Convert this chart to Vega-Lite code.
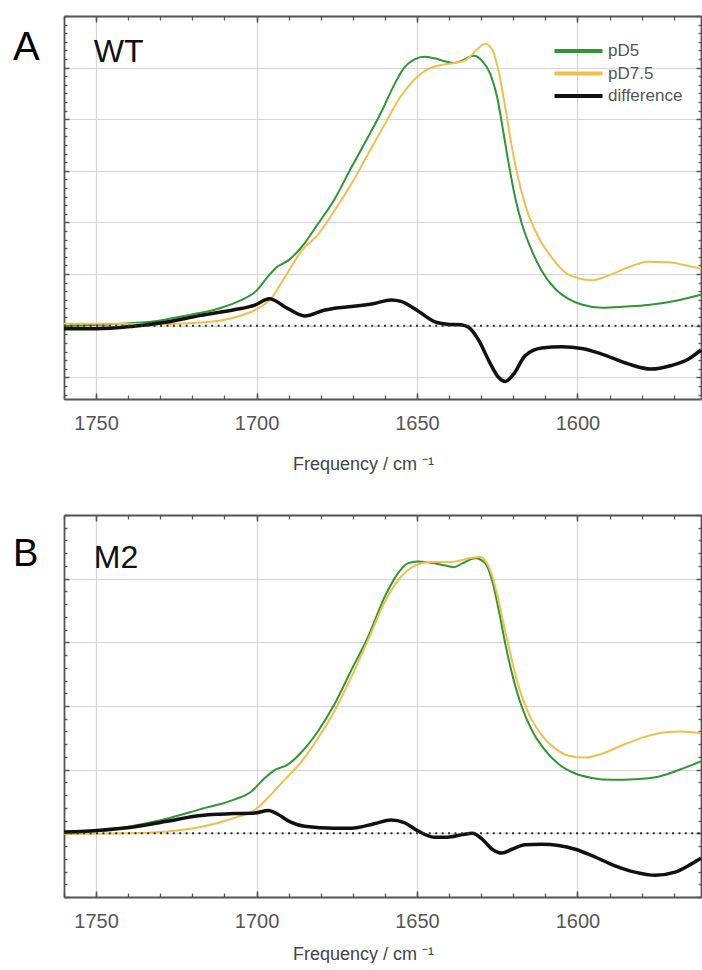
{
  "$schema": "https://vega.github.io/schema/vega-lite/v6.json",
  "padding": {"left": 12, "top": 15, "right": 0, "bottom": 0},
  "autosize": {"type": "pad"},
  "config": {"font": "Liberation Sans", "view": {"stroke": null}},
  "datasets": {
    "A": [
      {"series": "pD5", "freq": 1760, "value": 0.0},
      {"series": "pD5", "freq": 1745, "value": 0.03},
      {"series": "pD5", "freq": 1731, "value": 0.09},
      {"series": "pD5", "freq": 1721.6, "value": 0.2},
      {"series": "pD5", "freq": 1712, "value": 0.33},
      {"series": "pD5", "freq": 1705, "value": 0.49},
      {"series": "pD5", "freq": 1700, "value": 0.68},
      {"series": "pD5", "freq": 1696.5, "value": 0.95},
      {"series": "pD5", "freq": 1694, "value": 1.12},
      {"series": "pD5", "freq": 1690, "value": 1.27},
      {"series": "pD5", "freq": 1686, "value": 1.52},
      {"series": "pD5", "freq": 1681, "value": 1.96},
      {"series": "pD5", "freq": 1675.7, "value": 2.45},
      {"series": "pD5", "freq": 1670.5, "value": 3.06},
      {"series": "pD5", "freq": 1665.3, "value": 3.65},
      {"series": "pD5", "freq": 1661.2, "value": 4.13},
      {"series": "pD5", "freq": 1657, "value": 4.68},
      {"series": "pD5", "freq": 1654, "value": 5.0},
      {"series": "pD5", "freq": 1650.8, "value": 5.16},
      {"series": "pD5", "freq": 1647.7, "value": 5.21},
      {"series": "pD5", "freq": 1644.6, "value": 5.18},
      {"series": "pD5", "freq": 1641, "value": 5.12},
      {"series": "pD5", "freq": 1638.5, "value": 5.09},
      {"series": "pD5", "freq": 1635.9, "value": 5.14},
      {"series": "pD5", "freq": 1632.3, "value": 5.23},
      {"series": "pD5", "freq": 1629.7, "value": 5.13},
      {"series": "pD5", "freq": 1627.1, "value": 4.87},
      {"series": "pD5", "freq": 1625, "value": 4.42},
      {"series": "pD5", "freq": 1623.5, "value": 3.9},
      {"series": "pD5", "freq": 1621.4, "value": 3.13},
      {"series": "pD5", "freq": 1619.4, "value": 2.48},
      {"series": "pD5", "freq": 1617.3, "value": 1.97},
      {"series": "pD5", "freq": 1614.2, "value": 1.45},
      {"series": "pD5", "freq": 1611.1, "value": 1.06},
      {"series": "pD5", "freq": 1606.9, "value": 0.71},
      {"series": "pD5", "freq": 1602.8, "value": 0.52},
      {"series": "pD5", "freq": 1598.7, "value": 0.41},
      {"series": "pD5", "freq": 1592.4, "value": 0.35},
      {"series": "pD5", "freq": 1585.2, "value": 0.37},
      {"series": "pD5", "freq": 1578, "value": 0.4},
      {"series": "pD5", "freq": 1569.7, "value": 0.48},
      {"series": "pD5", "freq": 1561.5, "value": 0.6},
      {"series": "pD7.5", "freq": 1760, "value": 0.04},
      {"series": "pD7.5", "freq": 1745, "value": 0.04},
      {"series": "pD7.5", "freq": 1731, "value": 0.03},
      {"series": "pD7.5", "freq": 1717.4, "value": 0.06},
      {"series": "pD7.5", "freq": 1707, "value": 0.16},
      {"series": "pD7.5", "freq": 1700, "value": 0.32},
      {"series": "pD7.5", "freq": 1695.4, "value": 0.53},
      {"series": "pD7.5", "freq": 1691.2, "value": 0.94},
      {"series": "pD7.5", "freq": 1686, "value": 1.45},
      {"series": "pD7.5", "freq": 1680.8, "value": 1.77},
      {"series": "pD7.5", "freq": 1675.7, "value": 2.23},
      {"series": "pD7.5", "freq": 1670.5, "value": 2.74},
      {"series": "pD7.5", "freq": 1665.3, "value": 3.32},
      {"series": "pD7.5", "freq": 1660.1, "value": 3.9},
      {"series": "pD7.5", "freq": 1655, "value": 4.45},
      {"series": "pD7.5", "freq": 1650.8, "value": 4.77},
      {"series": "pD7.5", "freq": 1646.6, "value": 4.97},
      {"series": "pD7.5", "freq": 1642.5, "value": 5.05},
      {"series": "pD7.5", "freq": 1638.4, "value": 5.09},
      {"series": "pD7.5", "freq": 1635, "value": 5.14},
      {"series": "pD7.5", "freq": 1633.9, "value": 5.19},
      {"series": "pD7.5", "freq": 1631.3, "value": 5.35},
      {"series": "pD7.5", "freq": 1628.7, "value": 5.46},
      {"series": "pD7.5", "freq": 1626.6, "value": 5.35},
      {"series": "pD7.5", "freq": 1624.6, "value": 4.94},
      {"series": "pD7.5", "freq": 1622.5, "value": 4.23},
      {"series": "pD7.5", "freq": 1620.4, "value": 3.45},
      {"series": "pD7.5", "freq": 1618.3, "value": 2.81},
      {"series": "pD7.5", "freq": 1615.7, "value": 2.23},
      {"series": "pD7.5", "freq": 1612.1, "value": 1.71},
      {"series": "pD7.5", "freq": 1608, "value": 1.32},
      {"series": "pD7.5", "freq": 1603.8, "value": 1.03},
      {"series": "pD7.5", "freq": 1599.7, "value": 0.92},
      {"series": "pD7.5", "freq": 1595.5, "value": 0.88},
      {"series": "pD7.5", "freq": 1590.4, "value": 0.97},
      {"series": "pD7.5", "freq": 1584.2, "value": 1.13},
      {"series": "pD7.5", "freq": 1578, "value": 1.24},
      {"series": "pD7.5", "freq": 1571.7, "value": 1.23},
      {"series": "pD7.5", "freq": 1565.5, "value": 1.16},
      {"series": "pD7.5", "freq": 1561.5, "value": 1.1},
      {"series": "difference", "freq": 1760, "value": -0.06},
      {"series": "difference", "freq": 1750, "value": -0.06},
      {"series": "difference", "freq": 1738.3, "value": -0.01},
      {"series": "difference", "freq": 1727.9, "value": 0.07},
      {"series": "difference", "freq": 1717.4, "value": 0.2},
      {"series": "difference", "freq": 1707, "value": 0.31},
      {"series": "difference", "freq": 1700.5, "value": 0.4},
      {"series": "difference", "freq": 1696, "value": 0.52},
      {"series": "difference", "freq": 1690.5, "value": 0.34},
      {"series": "difference", "freq": 1685, "value": 0.19},
      {"series": "difference", "freq": 1679, "value": 0.3},
      {"series": "difference", "freq": 1675.7, "value": 0.34},
      {"series": "difference", "freq": 1670.5, "value": 0.37},
      {"series": "difference", "freq": 1663.3, "value": 0.43},
      {"series": "difference", "freq": 1658.1, "value": 0.5},
      {"series": "difference", "freq": 1655, "value": 0.47},
      {"series": "difference", "freq": 1649.8, "value": 0.29},
      {"series": "difference", "freq": 1644.6, "value": 0.08},
      {"series": "difference", "freq": 1640.5, "value": 0.03},
      {"series": "difference", "freq": 1636.3, "value": 0.02},
      {"series": "difference", "freq": 1633.9, "value": -0.03},
      {"series": "difference", "freq": 1630.7, "value": -0.29},
      {"series": "difference", "freq": 1627.6, "value": -0.68},
      {"series": "difference", "freq": 1624.6, "value": -1.0},
      {"series": "difference", "freq": 1622.5, "value": -1.08},
      {"series": "difference", "freq": 1619.9, "value": -0.94},
      {"series": "difference", "freq": 1616.3, "value": -0.58},
      {"series": "difference", "freq": 1611.1, "value": -0.43},
      {"series": "difference", "freq": 1604.9, "value": -0.41},
      {"series": "difference", "freq": 1598.7, "value": -0.44},
      {"series": "difference", "freq": 1592.4, "value": -0.55},
      {"series": "difference", "freq": 1584.2, "value": -0.74},
      {"series": "difference", "freq": 1577.1, "value": -0.84},
      {"series": "difference", "freq": 1570.7, "value": -0.77},
      {"series": "difference", "freq": 1565.5, "value": -0.65},
      {"series": "difference", "freq": 1561.5, "value": -0.47}
    ],
    "B": [
      {"series": "pD5", "freq": 1760, "value": 0.02},
      {"series": "pD5", "freq": 1748.7, "value": 0.04},
      {"series": "pD5", "freq": 1738.3, "value": 0.12},
      {"series": "pD5", "freq": 1727.9, "value": 0.23},
      {"series": "pD5", "freq": 1717.4, "value": 0.38},
      {"series": "pD5", "freq": 1707, "value": 0.53},
      {"series": "pD5", "freq": 1701.8, "value": 0.65},
      {"series": "pD5", "freq": 1697.6, "value": 0.86},
      {"series": "pD5", "freq": 1694.5, "value": 0.99},
      {"series": "pD5", "freq": 1690.3, "value": 1.08},
      {"series": "pD5", "freq": 1686.1, "value": 1.27},
      {"series": "pD5", "freq": 1680.9, "value": 1.6},
      {"series": "pD5", "freq": 1675.7, "value": 2.03},
      {"series": "pD5", "freq": 1670.5, "value": 2.56},
      {"series": "pD5", "freq": 1665.3, "value": 3.08},
      {"series": "pD5", "freq": 1660.1, "value": 3.71},
      {"series": "pD5", "freq": 1656, "value": 4.08},
      {"series": "pD5", "freq": 1652.9, "value": 4.24},
      {"series": "pD5", "freq": 1649.8, "value": 4.27},
      {"series": "pD5", "freq": 1645.7, "value": 4.25},
      {"series": "pD5", "freq": 1640.5, "value": 4.2},
      {"series": "pD5", "freq": 1638.5, "value": 4.18},
      {"series": "pD5", "freq": 1635.9, "value": 4.24},
      {"series": "pD5", "freq": 1631.8, "value": 4.32},
      {"series": "pD5", "freq": 1628.7, "value": 4.24},
      {"series": "pD5", "freq": 1626.6, "value": 3.97},
      {"series": "pD5", "freq": 1624.5, "value": 3.5},
      {"series": "pD5", "freq": 1622.5, "value": 2.98},
      {"series": "pD5", "freq": 1620.4, "value": 2.51},
      {"series": "pD5", "freq": 1617.3, "value": 1.98},
      {"series": "pD5", "freq": 1614.2, "value": 1.62},
      {"series": "pD5", "freq": 1610, "value": 1.3},
      {"series": "pD5", "freq": 1605.9, "value": 1.09},
      {"series": "pD5", "freq": 1600.7, "value": 0.94},
      {"series": "pD5", "freq": 1595.5, "value": 0.87},
      {"series": "pD5", "freq": 1589.3, "value": 0.84},
      {"series": "pD5", "freq": 1582.1, "value": 0.85},
      {"series": "pD5", "freq": 1574.8, "value": 0.89},
      {"series": "pD5", "freq": 1567.6, "value": 1.01},
      {"series": "pD5", "freq": 1561.5, "value": 1.13},
      {"series": "pD7.5", "freq": 1760, "value": -0.01},
      {"series": "pD7.5", "freq": 1738.3, "value": 0.0},
      {"series": "pD7.5", "freq": 1727.9, "value": 0.03},
      {"series": "pD7.5", "freq": 1717.4, "value": 0.1},
      {"series": "pD7.5", "freq": 1707, "value": 0.24},
      {"series": "pD7.5", "freq": 1700.5, "value": 0.37},
      {"series": "pD7.5", "freq": 1696.6, "value": 0.55},
      {"series": "pD7.5", "freq": 1691.3, "value": 0.84},
      {"series": "pD7.5", "freq": 1686.1, "value": 1.12},
      {"series": "pD7.5", "freq": 1680.9, "value": 1.49},
      {"series": "pD7.5", "freq": 1675.7, "value": 1.92},
      {"series": "pD7.5", "freq": 1670.5, "value": 2.45},
      {"series": "pD7.5", "freq": 1665.3, "value": 3.03},
      {"series": "pD7.5", "freq": 1660.1, "value": 3.63},
      {"series": "pD7.5", "freq": 1655, "value": 4.03},
      {"series": "pD7.5", "freq": 1650.8, "value": 4.2},
      {"series": "pD7.5", "freq": 1645.7, "value": 4.26},
      {"series": "pD7.5", "freq": 1640.5, "value": 4.26},
      {"series": "pD7.5", "freq": 1637, "value": 4.28},
      {"series": "pD7.5", "freq": 1632.8, "value": 4.33},
      {"series": "pD7.5", "freq": 1630.2, "value": 4.34},
      {"series": "pD7.5", "freq": 1627.6, "value": 4.18},
      {"series": "pD7.5", "freq": 1625.6, "value": 3.87},
      {"series": "pD7.5", "freq": 1623.5, "value": 3.4},
      {"series": "pD7.5", "freq": 1621.4, "value": 2.93},
      {"series": "pD7.5", "freq": 1618.3, "value": 2.3},
      {"series": "pD7.5", "freq": 1615.2, "value": 1.88},
      {"series": "pD7.5", "freq": 1611.1, "value": 1.54},
      {"series": "pD7.5", "freq": 1606.9, "value": 1.33},
      {"series": "pD7.5", "freq": 1602.8, "value": 1.22},
      {"series": "pD7.5", "freq": 1597.6, "value": 1.19},
      {"series": "pD7.5", "freq": 1592.4, "value": 1.25},
      {"series": "pD7.5", "freq": 1586.2, "value": 1.38},
      {"series": "pD7.5", "freq": 1580, "value": 1.5},
      {"series": "pD7.5", "freq": 1573.8, "value": 1.58},
      {"series": "pD7.5", "freq": 1567.6, "value": 1.6},
      {"series": "pD7.5", "freq": 1561.5, "value": 1.57},
      {"series": "difference", "freq": 1760, "value": 0.02},
      {"series": "difference", "freq": 1748.7, "value": 0.05},
      {"series": "difference", "freq": 1738.3, "value": 0.1},
      {"series": "difference", "freq": 1727.9, "value": 0.19},
      {"series": "difference", "freq": 1717.4, "value": 0.28},
      {"series": "difference", "freq": 1712.2, "value": 0.3},
      {"series": "difference", "freq": 1707, "value": 0.31},
      {"series": "difference", "freq": 1700.5, "value": 0.32},
      {"series": "difference", "freq": 1696.3, "value": 0.36},
      {"series": "difference", "freq": 1693.4, "value": 0.3},
      {"series": "difference", "freq": 1689.5, "value": 0.18},
      {"series": "difference", "freq": 1685, "value": 0.11},
      {"series": "difference", "freq": 1675.7, "value": 0.08},
      {"series": "difference", "freq": 1670.5, "value": 0.08},
      {"series": "difference", "freq": 1663.3, "value": 0.15},
      {"series": "difference", "freq": 1658.1, "value": 0.21},
      {"series": "difference", "freq": 1654, "value": 0.17},
      {"series": "difference", "freq": 1649.8, "value": 0.04},
      {"series": "difference", "freq": 1644.6, "value": -0.06},
      {"series": "difference", "freq": 1640.5, "value": -0.06},
      {"series": "difference", "freq": 1635.9, "value": -0.02},
      {"series": "difference", "freq": 1632.8, "value": 0.0},
      {"series": "difference", "freq": 1629.7, "value": -0.09},
      {"series": "difference", "freq": 1626.6, "value": -0.25},
      {"series": "difference", "freq": 1623.5, "value": -0.31},
      {"series": "difference", "freq": 1620.4, "value": -0.25},
      {"series": "difference", "freq": 1616.3, "value": -0.18},
      {"series": "difference", "freq": 1611.1, "value": -0.17},
      {"series": "difference", "freq": 1605.9, "value": -0.19},
      {"series": "difference", "freq": 1600.7, "value": -0.25},
      {"series": "difference", "freq": 1595.5, "value": -0.35},
      {"series": "difference", "freq": 1588.3, "value": -0.51},
      {"series": "difference", "freq": 1582.1, "value": -0.61},
      {"series": "difference", "freq": 1575.8, "value": -0.66},
      {"series": "difference", "freq": 1569.6, "value": -0.61},
      {"series": "difference", "freq": 1564.5, "value": -0.48},
      {"series": "difference", "freq": 1561.5, "value": -0.39}
    ]
  },
  "vconcat": [
    {
      "width": 637,
      "height": 383,
      "data": {"name": "A"},
      "layer": [
        {
          "mark": {"type": "line", "interpolate": "monotone"},
          "encoding": {
            "x": {"field": "freq", "type": "quantitative",
              "scale": {"domain": [1760, 1561.5], "nice": false, "zero": false},
              "axis": {"orient": "bottom", "values": [1750, 1700, 1650, 1600], "format": "d", "grid": true, "gridColor": "#d6d6d6", "gridWidth": 1.2,
                "tickSize": -6, "tickColor": "#555", "tickWidth": 1.5, "domainColor": "#555", "domainWidth": 1.8,
                "labelFontSize": 20, "labelColor": "#555", "labelPadding": 36, "labelBaseline": "alphabetic", "labelFlush": false,
                "title": "Frequency / cm ⁻¹", "titleFontSize": 18, "titleFontWeight": "normal", "titleColor": "#444", "titleX": 299, "titleY": 70, "titleBaseline": "alphabetic"}},
            "y": {"field": "value", "type": "quantitative",
              "scale": {"domain": [-1.42, 6], "nice": false, "zero": false},
              "axis": {"orient": "left", "values": [-1, 0, 1, 2, 3, 4, 5, 6], "grid": true, "gridColor": "#d6d6d6", "gridWidth": 1.2, "labels": false,
                "tickSize": -5, "tickColor": "#555", "tickWidth": 1.5, "domainColor": "#555", "domainWidth": 1.8, "title": null}},
            "color": {"field": "series", "type": "nominal",
              "scale": {"domain": ["pD5", "pD7.5", "difference"], "range": ["#2e9632", "#f0bf4c", "#111111"]},
              "legend": {"orient": "none", "legendX": 506, "legendY": 26.5, "direction": "vertical", "title": null, "padding": 0,
                "symbolType": "M-4,0H4", "symbolSize": 144, "symbolStrokeWidth": 4, "labelOffset": 21,
                "labelFontSize": 17, "labelColor": "#555", "rowPadding": 4.5}},
            "strokeWidth": {"condition": {"test": "datum.series === 'difference'", "value": 3.5}, "value": 2}
          }
        },
        {
          "data": {"values": [{}]},
          "mark": {"type": "rule", "strokeDash": [2, 4.4], "strokeWidth": 2, "color": "#333"},
          "encoding": {
            "x": {"datum": 1760, "type": "quantitative",
              "axis": {"orient": "top", "values": [1750, 1700, 1650, 1600], "grid": false, "labels": false, "tickSize": -6, "tickColor": "#555", "tickWidth": 1.5, "domainColor": "#555", "domainWidth": 1.8, "title": null}},
            "x2": {"datum": 1561.5},
            "y": {"datum": 0, "type": "quantitative",
              "axis": {"orient": "right", "values": [-1, 0, 1, 2, 3, 4, 5, 6], "grid": false, "labels": false, "tickSize": -5, "tickColor": "#555", "tickWidth": 1.5, "domainColor": "#555", "domainWidth": 1.8, "title": null}}
          }
        },
        {
          "data": {"values": [{}]},
          "mark": {"type": "text", "text": "WT", "fontSize": 32, "color": "#111", "align": "left", "baseline": "alphabetic"},
          "encoding": {
            "x": {"datum": 1750.7, "type": "quantitative",
              "axis": {"orient": "bottom", "values": [1760, 1750, 1740, 1730, 1720, 1710, 1700, 1690, 1680, 1670, 1660, 1650, 1640, 1630, 1620, 1610, 1600, 1590, 1580, 1570], "grid": false, "labels": false, "domain": false, "tickSize": -4, "tickColor": "#555", "tickWidth": 1.3, "title": null}},
            "y": {"datum": 5.115, "type": "quantitative",
              "axis": {"orient": "left", "values": [-1.3333, -1.1667, -0.8333, -0.6667, -0.5, -0.3333, -0.1667, 0.1667, 0.3333, 0.5, 0.6667, 0.8333, 1.1667, 1.3333, 1.5, 1.6667, 1.8333, 2.1667, 2.3333, 2.5, 2.6667, 2.8333, 3.1667, 3.3333, 3.5, 3.6667, 3.8333, 4.1667, 4.3333, 4.5, 4.6667, 4.8333, 5.1667, 5.3333, 5.5, 5.6667, 5.8333], "grid": false, "labels": false, "domain": false, "tickSize": -3, "tickColor": "#555", "tickWidth": 1.3, "title": null}}
          }
        },
        {
          "data": {"values": [{}]},
          "mark": {"type": "text", "text": "A", "fontSize": 40, "color": "#000", "align": "left", "baseline": "alphabetic"},
          "encoding": {
            "x": {"datum": 1775.9, "type": "quantitative",
              "axis": {"orient": "top", "values": [1760, 1750, 1740, 1730, 1720, 1710, 1700, 1690, 1680, 1670, 1660, 1650, 1640, 1630, 1620, 1610, 1600, 1590, 1580, 1570], "grid": false, "labels": false, "domain": false, "tickSize": -4, "tickColor": "#555", "tickWidth": 1.3, "title": null}},
            "y": {"datum": 5.148, "type": "quantitative",
              "axis": {"orient": "right", "values": [-1.3333, -1.1667, -0.8333, -0.6667, -0.5, -0.3333, -0.1667, 0.1667, 0.3333, 0.5, 0.6667, 0.8333, 1.1667, 1.3333, 1.5, 1.6667, 1.8333, 2.1667, 2.3333, 2.5, 2.6667, 2.8333, 3.1667, 3.3333, 3.5, 3.6667, 3.8333, 4.1667, 4.3333, 4.5, 4.6667, 4.8333, 5.1667, 5.3333, 5.5, 5.6667, 5.8333], "grid": false, "labels": false, "domain": false, "tickSize": -3, "tickColor": "#555", "tickWidth": 1.3, "title": null}}
          }
        }
      ],
      "resolve": {"scale": {"x": "shared", "y": "shared"}, "axis": {"x": "independent", "y": "independent"}}
    },
    {
      "width": 637,
      "height": 382,
      "data": {"name": "B"},
      "layer": [
        {
          "mark": {"type": "line", "interpolate": "monotone"},
          "encoding": {
            "x": {"field": "freq", "type": "quantitative",
              "scale": {"domain": [1760, 1561.5], "nice": false, "zero": false},
              "axis": {"orient": "bottom", "values": [1750, 1700, 1650, 1600], "format": "d", "grid": true, "gridColor": "#d6d6d6", "gridWidth": 1.2,
                "tickSize": -6, "tickColor": "#555", "tickWidth": 1.5, "domainColor": "#555", "domainWidth": 1.8,
                "labelFontSize": 20, "labelColor": "#555", "labelPadding": 36, "labelBaseline": "alphabetic", "labelFlush": false,
                "title": "Frequency / cm ⁻¹", "titleFontSize": 18, "titleFontWeight": "normal", "titleColor": "#444", "titleX": 299, "titleY": 62, "titleBaseline": "alphabetic"}},
            "y": {"field": "value", "type": "quantitative",
              "scale": {"domain": [-1, 5], "nice": false, "zero": false},
              "axis": {"orient": "left", "values": [-1, 0, 1, 2, 3, 4, 5], "grid": true, "gridColor": "#d6d6d6", "gridWidth": 1.2, "labels": false,
                "tickSize": -5, "tickColor": "#555", "tickWidth": 1.5, "domainColor": "#555", "domainWidth": 1.8, "title": null}},
            "color": {"field": "series", "type": "nominal",
              "scale": {"domain": ["pD5", "pD7.5", "difference"], "range": ["#2e9632", "#f0bf4c", "#111111"]},
              "legend": null},
            "strokeWidth": {"condition": {"test": "datum.series === 'difference'", "value": 3.5}, "value": 2}
          }
        },
        {
          "data": {"values": [{}]},
          "mark": {"type": "rule", "strokeDash": [2, 4.4], "strokeWidth": 2, "color": "#333"},
          "encoding": {
            "x": {"datum": 1760, "type": "quantitative",
              "axis": {"orient": "top", "values": [1750, 1700, 1650, 1600], "grid": false, "labels": false, "tickSize": -6, "tickColor": "#555", "tickWidth": 1.5, "domainColor": "#555", "domainWidth": 1.8, "title": null}},
            "x2": {"datum": 1561.5},
            "y": {"datum": 0, "type": "quantitative",
              "axis": {"orient": "right", "values": [-1, 0, 1, 2, 3, 4, 5], "grid": false, "labels": false, "tickSize": -5, "tickColor": "#555", "tickWidth": 1.5, "domainColor": "#555", "domainWidth": 1.8, "title": null}}
          }
        },
        {
          "data": {"values": [{}]},
          "mark": {"type": "text", "text": "M2", "fontSize": 32, "color": "#111", "align": "left", "baseline": "alphabetic"},
          "encoding": {
            "x": {"datum": 1750.7, "type": "quantitative",
              "axis": {"orient": "bottom", "values": [1760, 1750, 1740, 1730, 1720, 1710, 1700, 1690, 1680, 1670, 1660, 1650, 1640, 1630, 1620, 1610, 1600, 1590, 1580, 1570], "grid": false, "labels": false, "domain": false, "tickSize": -4, "tickColor": "#555", "tickWidth": 1.3, "title": null}},
            "y": {"datum": 4.163, "type": "quantitative",
              "axis": {"orient": "left", "values": [-0.8, -0.6, -0.4, -0.2, 0.2, 0.4, 0.6, 0.8, 1.2, 1.4, 1.6, 1.8, 2.2, 2.4, 2.6, 2.8, 3.2, 3.4, 3.6, 3.8, 4.2, 4.4, 4.6, 4.8], "grid": false, "labels": false, "domain": false, "tickSize": -3, "tickColor": "#555", "tickWidth": 1.3, "title": null}}
          }
        },
        {
          "data": {"values": [{}]},
          "mark": {"type": "text", "text": "B", "fontSize": 38, "color": "#000", "align": "left", "baseline": "alphabetic"},
          "encoding": {
            "x": {"datum": 1775.9, "type": "quantitative",
              "axis": {"orient": "top", "values": [1760, 1750, 1740, 1730, 1720, 1710, 1700, 1690, 1680, 1670, 1660, 1650, 1640, 1630, 1620, 1610, 1600, 1590, 1580, 1570], "grid": false, "labels": false, "domain": false, "tickSize": -4, "tickColor": "#555", "tickWidth": 1.3, "title": null}},
            "y": {"datum": 4.199, "type": "quantitative",
              "axis": {"orient": "right", "values": [-0.8, -0.6, -0.4, -0.2, 0.2, 0.4, 0.6, 0.8, 1.2, 1.4, 1.6, 1.8, 2.2, 2.4, 2.6, 2.8, 3.2, 3.4, 3.6, 3.8, 4.2, 4.4, 4.6, 4.8], "grid": false, "labels": false, "domain": false, "tickSize": -3, "tickColor": "#555", "tickWidth": 1.3, "title": null}}
          }
        }
      ],
      "resolve": {"scale": {"x": "shared", "y": "shared"}, "axis": {"x": "independent", "y": "independent"}}
    }
  ],
  "spacing": 116,
  "bounds": "flush",
  "resolve": {"scale": {"color": "independent"}}
}
